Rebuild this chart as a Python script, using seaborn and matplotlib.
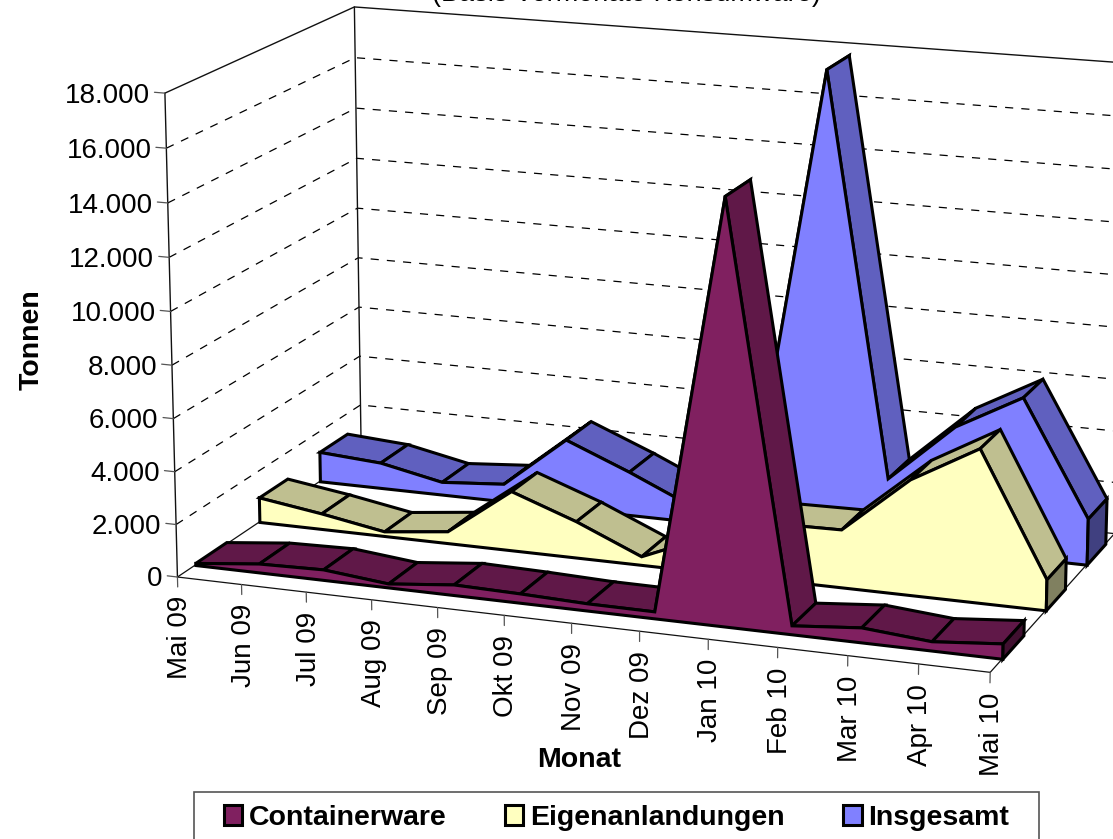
import matplotlib
matplotlib.use("Agg")
import matplotlib.pyplot as plt
import numpy as np
import seaborn as sns
from matplotlib.patches import Patch, Rectangle
from mpl_toolkits.mplot3d import proj3d
from mpl_toolkits.mplot3d.art3d import Poly3DCollection

months = ["Mai 09", "Jun 09", "Jul 09", "Aug 09", "Sep 09", "Okt 09", "Nov 09",
          "Dez 09", "Jan 10", "Feb 10", "Mar 10", "Apr 10", "Mai 10"]
containerware = [80, 340, 400, 150, 400, 350, 270, 260, 15600, 330, 550, 340, 560]
eigenanlandungen = [970, 610, 180, 460, 2290, 1400, 330, 1380, 2150, 2190, 4340, 5760, 1160]
insgesamt = [1190, 1020, 510, 700, 2720, 1710, 600, 2500, 17830, 2510, 4770, 6140, 1770]
series_names = ["Containerware", "Eigenanlandungen", "Insgesamt"]
series_values = [containerware, eigenanlandungen, insgesamt]
y_ticks = [0, 2000, 4000, 6000, 8000, 10000, 12000, 14000, 16000, 18000]
y_labels = ["0", "2.000", "4.000", "6.000", "8.000", "10.000", "12.000", "14.000", "16.000", "18.000"]
bands = [(0.09, 0.25), (0.425, 0.58), (0.76, 0.92)]
colors = sns.color_palette(["#802060", "#FFFFC0", "#8080FF"])

sns.set_theme(style="white", font="Liberation Sans")
plt.rcParams["font.family"] = ["Liberation Sans", "DejaVu Sans"]
plt.rcParams["text.color"] = "black"

W, H = 1113, 839
fig = plt.figure(figsize=(W / 100, H / 100), dpi=100)
ax = fig.add_subplot(projection="3d", computed_zorder=False)

# camera fitted on the corners of the original chart
side = 1048.5
ax.set_position([(639.0 - side / 2) / W, (H - 333.8 - side / 2) / H, side / W, side / H])
ax.view_init(14.876, -70.085, -0.065)
ax.set_proj_type("persp", focal_length=0.8368)
ax.set_box_aspect((1.8214, 1, 1.0675))
ax.set_xlim(0, 12, view_margin=0)
ax.set_ylim(0, 1, view_margin=0)
ax.set_zlim(0, 18000, view_margin=0)
ax.set_axis_off()
ax.apply_aspect()

n = len(months) - 1
proj = ax.get_proj()


def label_at(x, y, z, s, **kw):
    # Text3D ignores rotation, so project the anchor and write a flat text
    vx, vy, _ = proj3d.proj_transform(x, y, z, proj)
    ax.text2D(vx, vy, s, transform=ax.transData, fontsize=20, clip_on=False, **kw)


# walls
for z in y_ticks[1:-1]:
    ax.plot([0, 0, n], [0, 1, 1], [z, z, z], color="black", lw=0.9, ls=(0, (6.5, 6.5)), zorder=1)
frame = "#111111"
ax.plot([0, 0], [0, 1], [0, 0], color=frame, lw=0.9, zorder=1)
ax.plot([0, n], [1, 1], [0, 0], color=frame, lw=0.9, zorder=1)
ax.plot([n, n], [0, 1], [0, 0], color=frame, lw=0.9, zorder=1)
ax.plot([0, n], [0, 0], [0, 0], color=frame, lw=0.9, zorder=1)
ax.plot([0, 0], [0, 0], [0, 18000], color=frame, lw=1.0, zorder=1)
ax.plot([0, 0], [1, 1], [0, 18000], color=frame, lw=1.0, zorder=1)
ax.plot([0, 0, n], [0, 1, 1], [18000, 18000, 18000], color=frame, lw=1.0, zorder=1)

# ticks and labels
for i, m in enumerate(months):
    ax.plot([i, i], [0, 0], [0, -380], color="#555555", lw=0.9, zorder=1)
    label_at(i + 0.03, 0, -720, m, rotation=90, ha="center", va="top")
for z, lab in zip(y_ticks, y_labels):
    ax.plot([0, -0.16], [0, 0], [z, z], color="#555555", lw=0.9, zorder=1)
    label_at(-0.23, 0, z - 40, lab, ha="right", va="center_baseline")


def shade(col, f):
    return tuple(c * f for c in col)


def add_poly(verts, face, order):
    poly = Poly3DCollection([verts], facecolors=[face], edgecolors="black",
                            linewidths=2.2, joinstyle="miter", zorder=order)
    ax.add_collection3d(poly)


# back series first, each one strips -> front -> end cap
order = 2
for k in [2, 1, 0]:
    vals = series_values[k]
    y0, y1 = bands[k]
    for i in range(n):
        strip = [(i, y0, vals[i]), (i + 1, y0, vals[i + 1]), (i + 1, y1, vals[i + 1]), (i, y1, vals[i])]
        add_poly(strip, shade(colors[k], 0.75), order)
        order += 1
    front = [(i, y0, v) for i, v in enumerate(vals)] + [(n, y0, 0), (0, y0, 0)]
    add_poly(front, colors[k], order)
    order += 1
    cap = [(n, y0, vals[n]), (n, y1, vals[n]), (n, y1, 0), (n, y0, 0)]
    add_poly(cap, shade(colors[k], 0.5), order)
    order += 1

# texts around the plot
fig.text(626 / W, 1 - 1 / H, "(Basis Vormonate Konsumware)", ha="center", va="baseline", fontsize=19.5)
fig.text(32 / W, 1 - 340 / H, "Tonnen", rotation=90, ha="center", va="center", fontsize=20.5, fontweight="bold")
fig.text(579 / W, 1 - 760 / H, "Monat", ha="center", va="center", fontsize=20.5, fontweight="bold")

# legend
fig.add_artist(Rectangle((194 / W, 1 - 840 / H), 845 / W, 48 / H, transform=fig.transFigure,
                         fill=False, ec="#555555", lw=1.2))
handles = [Patch(facecolor=c, edgecolor="black", lw=2.2) for c in colors]
fig.legend(handles, series_names, ncol=3, loc="center left", frameon=False,
           bbox_to_anchor=(223.5 / W, 1 - 818 / H), borderpad=0, borderaxespad=0,
           handlelength=0.66, handleheight=0.66, handletextpad=0.22, columnspacing=2.05,
           prop={"size": 20.5, "weight": "bold"})

fig.savefig("out.png", dpi=100, facecolor="white")
